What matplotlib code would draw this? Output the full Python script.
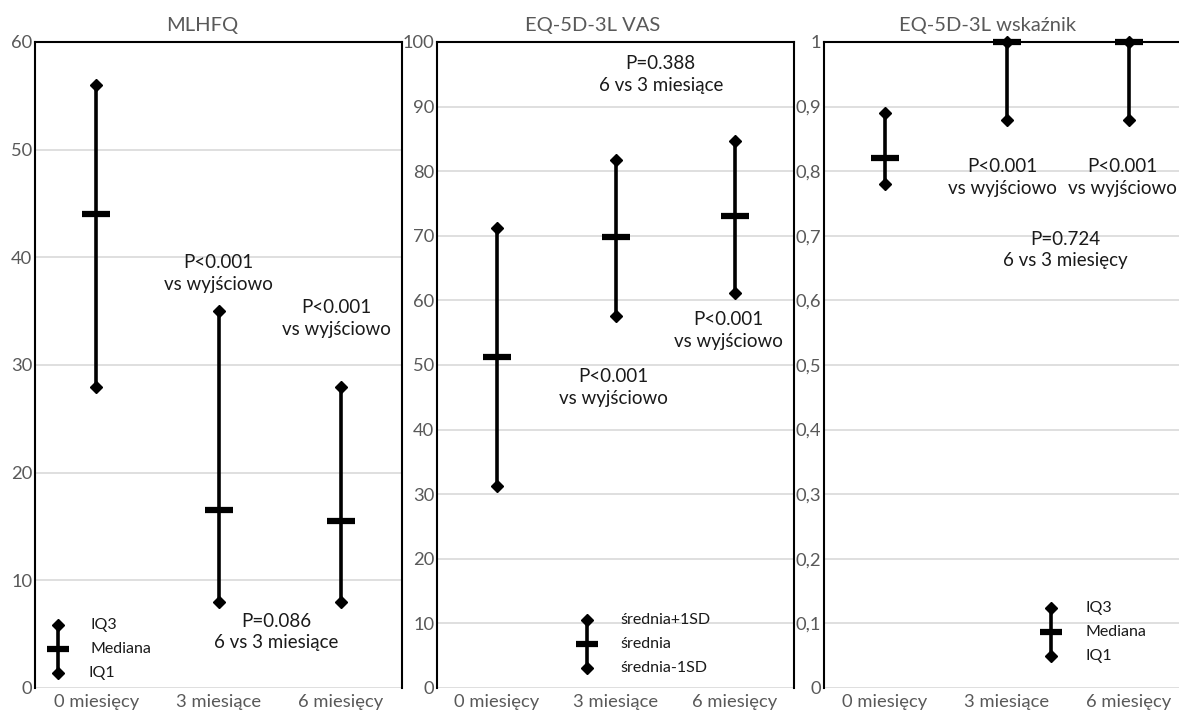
import matplotlib
matplotlib.use('Agg')
import matplotlib.pyplot as plt

plt.rcParams['font.family'] = ['Lato', 'DejaVu Sans']

#-- data
categories = ['0 miesięcy', '3 miesiące', '6 miesięcy']

mlhfq_q3  = [56, 35, 28]
mlhfq_med = [44, 16.5, 15.5]
mlhfq_q1  = [28, 8, 8]

vas_hi   = [71.2, 81.7, 84.6]
vas_mean = [51.2, 69.8, 73.0]
vas_lo   = [31.2, 57.6, 61.2]

idx_q3  = [0.89, 1.0, 1.0]
idx_med = [0.82, 1.0, 1.0]
idx_q1  = [0.78, 0.88, 0.88]

titles = ['MLHFQ', 'EQ-5D-3L VAS', 'EQ-5D-3L wskaźnik']

grey = '#595959'
grid = '#d9d9d9'

fig = plt.figure(figsize=(11.79, 7.13), dpi=100)
bot, hgt = 0.0351, 0.906
ax1 = fig.add_axes([0.0297, bot, 0.3113, hgt])
ax2 = fig.add_axes([0.3707, bot, 0.3028, hgt])
ax3 = fig.add_axes([0.6989, bot, 0.3104, hgt])


def whisker(ax, x, hi, mid, lo, bar=20):
    ax.vlines(x, lo, hi, color='black', lw=2.6, zorder=3, clip_on=False)
    ax.plot(x, hi, 'D', color='black', ms=5.8, zorder=4, clip_on=False)
    ax.plot(x, lo, 'D', color='black', ms=5.8, zorder=4, clip_on=False)
    ax.plot(x, mid, '_', color='black', ms=bar, mew=4.5, zorder=5, clip_on=False)


def style(ax, ticks, labels):
    ax.set_xlim(-0.5, 2.5)
    ax.set_xticks(range(len(categories)))
    ax.set_xticklabels(categories)
    ax.set_yticks(ticks)
    ax.set_yticklabels(labels)
    ax.set_ylim(ticks[0], ticks[-1])
    ax.tick_params(length=0, labelcolor=grey, labelsize=13.2)
    ax.tick_params(axis='x', pad=4)
    ax.tick_params(axis='y', pad=2)
    ax.grid(axis='y', color=grid, lw=1.2, zorder=0)
    ax.set_axisbelow(True)
    for s in ['top', 'left', 'right']:
        ax.spines[s].set_color('black')
        ax.spines[s].set_linewidth(1.5)
    ax.spines['bottom'].set_visible(False)


ann = dict(ha='center', va='center', fontsize=13.5, color='#1a1a1a', linespacing=1.35)
leg = dict(ha='left', va='center', fontsize=11.5, color='#1a1a1a')

#-- panel 1: MLHFQ
for i in range(3):
    whisker(ax1, i, mlhfq_q3[i], mlhfq_med[i], mlhfq_q1[i])
style(ax1, list(range(0, 61, 10)), [str(v) for v in range(0, 61, 10)])
ax1.text(1.0, 38.5, 'P<0.001\nvs wyjściowo', **ann)
ax1.text(1.96, 34.3, 'P<0.001\nvs wyjściowo', **ann)
ax1.text(1.47, 5.2, 'P=0.086\n6 vs 3 miesiące', **ann)
whisker(ax1, -0.31, 5.85, 3.6, 1.4, bar=16)
ax1.text(-0.05, 5.85, 'IQ3', **leg)
ax1.text(-0.05, 3.6, 'Mediana', **leg)
ax1.text(-0.06, 1.4, 'IQ1', **leg)

#-- panel 2: EQ-5D-3L VAS
for i in range(3):
    whisker(ax2, i, vas_hi[i], vas_mean[i], vas_lo[i])
style(ax2, list(range(0, 101, 10)), [str(v) for v in range(0, 101, 10)])
ax2.text(1.38, 95.0, 'P=0.388\n6 vs 3 miesiące', **ann)
ax2.text(1.95, 55.3, 'P<0.001\nvs wyjściowo', **ann)
ax2.text(0.98, 46.5, 'P<0.001\nvs wyjściowo', **ann)
whisker(ax2, 0.76, 10.5, 6.8, 3.1, bar=16)
ax2.text(1.04, 10.5, 'średnia+1SD', **leg)
ax2.text(1.04, 6.8, 'średnia', **leg)
ax2.text(1.04, 3.1, 'średnia-1SD', **leg)

#-- panel 3: EQ-5D-3L wskaźnik
for i in range(3):
    whisker(ax3, i, idx_q3[i], idx_med[i], idx_q1[i])
yt = [round(v * 0.1, 1) for v in range(11)]
yl = ['0'] + [('%.1f' % v).replace('.', ',') for v in yt[1:-1]] + ['1']
style(ax3, yt, yl)
ax3.text(0.96, 0.79, 'P<0.001\nvs wyjściowo', **ann)
ax3.text(1.95, 0.79, 'P<0.001\nvs wyjściowo', **ann)
ax3.text(1.48, 0.678, 'P=0.724\n6 vs 3 miesięcy', **ann)
whisker(ax3, 1.36, 0.124, 0.087, 0.05, bar=16)
ax3.text(1.64, 0.124, 'IQ3', **leg)
ax3.text(1.64, 0.087, 'Mediana', **leg)
ax3.text(1.64, 0.05, 'IQ1', **leg)

#-- panel titles
for x, t in zip([202, 593, 988], titles):
    fig.text(x / 1179, 1 - 25 / 713, t, ha='center', va='center', fontsize=14.5, color=grey)

fig.savefig('out.png', dpi=100)
